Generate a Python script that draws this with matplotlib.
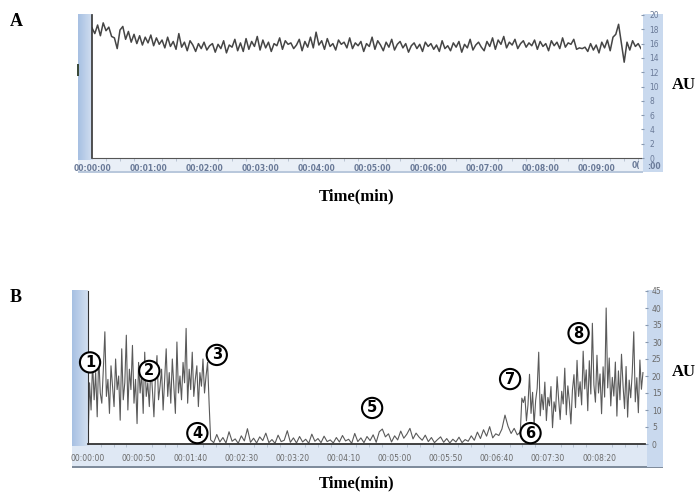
import matplotlib
matplotlib.use("Agg")
import matplotlib.pyplot as plt
import numpy as np
from matplotlib.patches import Rectangle
from matplotlib.ticker import MultipleLocator, FuncFormatter

# panel A: AU every 3 s, 0 .. 588 s
a_step = 3
a_vals = [
    18.2, 17.4, 18.6, 17.1, 18.9, 17.8, 18.3, 17.0, 16.8, 15.3, 17.9, 18.4, 16.6, 17.7, 16.2, 17.3, 16.0, 17.1, 15.8, 16.9,
    16.1, 17.2, 15.7, 16.8, 15.9, 16.5, 15.4, 16.9, 15.6, 16.3, 15.2, 17.4, 15.5, 16.2, 15.0, 16.4, 15.8, 14.9, 16.0, 15.3,
    16.2, 15.1, 15.7, 16.0, 14.8, 15.9, 15.3, 16.4, 14.7, 15.8, 15.5, 16.6, 15.0, 16.1, 14.9, 16.7, 15.2, 16.3, 15.6, 17.0,
    15.1, 16.5, 15.4, 16.2, 14.9, 16.0, 15.7, 16.8, 15.2, 16.4, 15.9, 16.1, 15.3, 15.8, 16.6, 15.0, 16.3, 15.5, 16.9, 15.4,
    17.6, 15.8, 16.4, 15.2, 16.7, 15.6, 16.0, 15.1, 16.5, 15.9, 16.2, 15.4, 16.8, 15.3, 16.1, 15.7, 16.3, 14.9, 16.0, 15.6,
    16.9, 15.2, 16.4, 15.8, 15.0, 16.2, 15.5, 16.6, 15.1, 15.9, 16.3, 15.4, 16.0, 14.8, 15.7, 16.1, 15.3, 15.9, 14.9, 16.2,
    15.6, 16.0, 15.2, 15.8, 14.9, 16.4, 15.3, 15.7, 15.0, 16.1, 15.5, 16.3, 14.8, 15.9, 15.4, 16.6, 15.1, 15.8, 16.2, 15.5,
    15.0, 16.3, 15.6, 16.8, 15.2, 16.5, 15.9, 17.0, 15.4, 16.2, 15.8, 16.6, 15.3, 16.0, 16.4, 15.5, 16.1, 15.7, 16.5, 15.2,
    16.3, 15.6, 16.0, 15.0, 16.4, 15.7, 16.2, 15.3, 16.8, 15.5, 16.1, 15.9, 16.6, 15.2, 15.4, 15.3, 15.5, 14.9, 16.0, 15.1,
    15.8, 14.7, 16.2, 15.4, 16.5, 15.0, 16.9, 17.3, 18.7, 16.0, 13.4, 16.2, 15.1, 16.4, 15.6, 16.0, 15.3,
]

# panel B, three phases (start s, step s, AU values)
b1_start, b1_step = 0.0, 1.5
b1_vals = [
    0, 18, 10, 24, 13, 21, 8, 26, 15, 12, 22, 33, 14, 19, 9, 23, 17, 11, 25, 16,
    20, 7, 28, 13, 18, 32, 10, 22, 16, 29, 12, 19, 6, 24, 15, 21, 9, 27, 14, 18,
    11, 23, 16, 8, 20, 26, 13, 17, 22, 10, 19, 28, 14, 21, 12, 25, 17, 9, 30, 15,
    20, 13, 24, 18, 34, 12, 22, 16, 27, 14, 19, 23, 11, 21, 17, 25, 15, 20, 24, 12,
]
b2_start, b2_step = 120.0, 3.0
b2_vals = [
    1.2, 0.4, 2.8, 0.6, 1.9, 0.3, 3.6, 0.8, 1.5, 0.2, 2.4, 0.9, 4.5, 0.5, 1.7, 0.3, 2.1, 1.0, 3.2, 0.4,
    1.3, 0.2, 2.6, 0.7, 1.1, 3.9, 0.5, 1.8, 0.3, 2.2, 0.6, 1.4, 0.2, 2.9, 0.8, 1.6, 0.4, 2.3, 0.7, 1.2,
    0.3, 1.9, 0.6, 2.5, 0.9, 1.4, 0.2, 3.1, 0.7, 1.8, 0.4, 2.2, 1.0, 2.7, 0.5, 3.6, 4.4, 2.1, 3.0, 0.6,
    2.4, 1.2, 3.8, 1.7, 2.9, 4.6, 1.5, 3.2, 2.0, 1.1, 2.6, 0.7, 1.9, 0.4, 1.3, 2.1, 0.5, 1.6, 0.3, 1.4,
    0.6, 2.0, 0.4, 1.3, 0.8, 2.4, 1.1, 3.5, 1.6, 4.2, 2.3, 5.1, 1.8, 3.0, 2.5, 4.4, 8.5, 5.2, 3.1, 4.6,
    2.7, 3.5,
]
b3_start, b3_step = 424.5, 1.5
b3_vals = [
    13.5, 12.2, 14.0, 6.8, 11.5, 20.5, 9.0, 15.2, 5.5, 12.8, 16.4, 27.0, 8.3, 14.6, 10.1, 18.2, 6.9, 13.7, 11.2, 16.9,
    4.8, 12.4, 9.6, 19.8, 13.1, 7.2, 15.5, 11.8, 22.3, 8.6, 17.1, 12.5, 5.9, 15.9, 20.4, 10.7, 24.6, 14.0, 18.3, 11.5,
    27.3, 16.2, 21.8, 9.8, 24.5, 14.7, 35.5, 17.4, 12.3, 26.1, 15.0, 20.6, 8.9, 22.7, 13.8, 40.0, 16.5, 25.3, 11.2, 19.6,
    14.1, 24.1, 8.2, 21.5, 13.0, 26.4, 17.3, 10.4, 22.8, 7.9, 18.8, 13.6, 20.9, 33.0, 12.4, 19.5, 9.2, 24.7, 16.1, 21.0,
]

# circled event markers in panel B: (label, seconds, AU)
b_marks = ["1", "2", "3", "4", "5", "6", "7", "8"]
b_mark_t = [2, 60, 126, 107, 278, 433, 413, 480]
b_mark_y = [24, 21.5, 26.2, 3.2, 10.6, 3.2, 19.1, 32.6]

W, H = 699, 504
fig = plt.figure(figsize=(W / 100, H / 100), dpi=100)


def box(x0, y0, x1, y1):
    # pixel box -> figure fraction [left, bottom, width, height]
    return [x0 / W, 1 - y1 / H, (x1 - x0) / W, (y1 - y0) / H]


def rect(x0, y0, x1, y1, color, z=-2):
    l, b, w, h = box(x0, y0, x1, y1)
    fig.patches.append(Rectangle((l, b), w, h, transform=fig.transFigure,
                                 fc=color, ec="none", zorder=z))


def gradient_bar(x0, y0, x1, y1):
    gax = fig.add_axes(box(x0, y0, x1, y1))
    g = np.linspace(0, 1, 50).reshape(1, -1)
    gax.imshow(g, aspect="auto", cmap=matplotlib.colors.LinearSegmentedColormap.from_list(
        "bar", ["#a7c0e2", "#d3e0f1"]), extent=[0, 1, 0, 1])
    gax.axis("off")


def hms(v, pos=None):
    v = int(round(v))
    return "00:%02d:%02d" % (v // 60, v % 60)


serif = ["Liberation Serif", "DejaVu Serif"]

# ---------------- panel A ----------------
rect(78, 158, 643, 172, "#e9eff7")
rect(78, 171, 643, 172.5, "#b9c8dc")
rect(643, 14, 663, 172, "#c9d9ee")
gradient_bar(78, 14, 92, 160)
rect(77, 64, 79, 76, "#3a4a3a", z=5)

axA = fig.add_axes(box(92, 15, 641, 158))
ta = np.arange(len(a_vals)) * a_step
axA.plot(ta, a_vals, color="#454545", lw=1.1)
axA.set_xlim(0, 588)
axA.set_ylim(0, 20)
axA.xaxis.set_major_locator(MultipleLocator(60))
axA.xaxis.set_minor_locator(MultipleLocator(15))
axA.xaxis.set_major_formatter(FuncFormatter(hms))
axA.yaxis.set_major_locator(MultipleLocator(2))
axA.yaxis.tick_right()
axA.tick_params(axis="x", which="major", length=0, pad=4, labelsize=5.5,
                labelcolor="#6a7a98")
axA.tick_params(axis="x", which="minor", length=2, color="#b0bccc")
axA.tick_params(axis="y", length=2, pad=4, labelsize=5.5, labelcolor="#6a7a98",
                color="#8899b0")
for lab in axA.get_xticklabels():
    lab.set_fontweight("bold")
for s in ["top", "right"]:
    axA.spines[s].set_visible(False)
axA.spines["left"].set_color("#333333")
axA.spines["bottom"].set_color("#555555")
axA.spines["left"].set_linewidth(1.2)
# cut-off last time label under the right strip
fig.text(636 / W, 1 - 166 / H, "0(", fontsize=5.5, color="#6a7a98",
         fontweight="bold", ha="center", va="center")
fig.text(654 / W, 1 - 167 / H, ":00", fontsize=5.5, color="#6a7a98",
         fontweight="bold", ha="center", va="center")

fig.text(10 / W, 1 - 22 / H, "A", fontsize=13, fontweight="bold", family=serif,
         ha="left", va="center")
fig.text(672 / W, 1 - 85 / H, "AU", fontsize=12, fontweight="bold", family=serif,
         ha="left", va="center")
fig.text(357 / W, 1 - 196 / H, "Time(min)", fontsize=12, fontweight="bold",
         family=serif, ha="center", va="center")

# ---------------- panel B ----------------
rect(72, 444, 663, 467, "#dfe8f4")
rect(72, 466, 663, 468, "#7f8c9c")
rect(647, 290, 663, 467, "#c9d9ee")
gradient_bar(72, 290, 88, 446)

axB = fig.add_axes(box(88, 291, 645, 444))
tb = np.concatenate([b1_start + np.arange(len(b1_vals)) * b1_step,
                     b2_start + np.arange(len(b2_vals)) * b2_step,
                     b3_start + np.arange(len(b3_vals)) * b3_step])
yb = b1_vals + b2_vals + b3_vals
axB.plot(tb, yb, color="#5a5a5a", lw=0.8)
axB.set_xlim(0, 545)
axB.set_ylim(0, 45)
axB.xaxis.set_major_locator(MultipleLocator(50))
axB.xaxis.set_minor_locator(MultipleLocator(12.5))
axB.xaxis.set_major_formatter(FuncFormatter(hms))
axB.yaxis.set_major_locator(MultipleLocator(5))
axB.yaxis.tick_right()
narrow = ["Liberation Sans Narrow", "DejaVu Sans"]
axB.tick_params(axis="x", which="major", length=0, pad=7, labelsize=5.5,
                labelcolor="#6a6a6a")
axB.tick_params(axis="x", which="minor", length=2, color="#b0bccc")
axB.tick_params(axis="y", length=2, pad=3, labelsize=5.5, labelcolor="#6a6a6a",
                color="#8899b0")
for lab in axB.get_xticklabels() + axB.get_yticklabels():
    lab.set_family(narrow)
for s in ["top", "right"]:
    axB.spines[s].set_visible(False)
axB.spines["left"].set_color("#333333")
axB.spines["bottom"].set_color("#333333")
axB.spines["bottom"].set_linewidth(1.3)

for lab, t, y in zip(b_marks, b_mark_t, b_mark_y):
    axB.text(t, y, lab, fontsize=10.5, fontweight="bold", ha="center", va="center",
             clip_on=False, zorder=6,
             bbox=dict(boxstyle="circle,pad=0.18", fc="white", ec="black", lw=1.5))

fig.text(10 / W, 1 - 297 / H, "B", fontsize=13, fontweight="bold", family=serif,
         ha="left", va="center")
fig.text(672 / W, 1 - 372 / H, "AU", fontsize=12, fontweight="bold", family=serif,
         ha="left", va="center")
fig.text(357 / W, 1 - 483 / H, "Time(min)", fontsize=12, fontweight="bold",
         family=serif, ha="center", va="center")

fig.savefig("out.png", dpi=100)
